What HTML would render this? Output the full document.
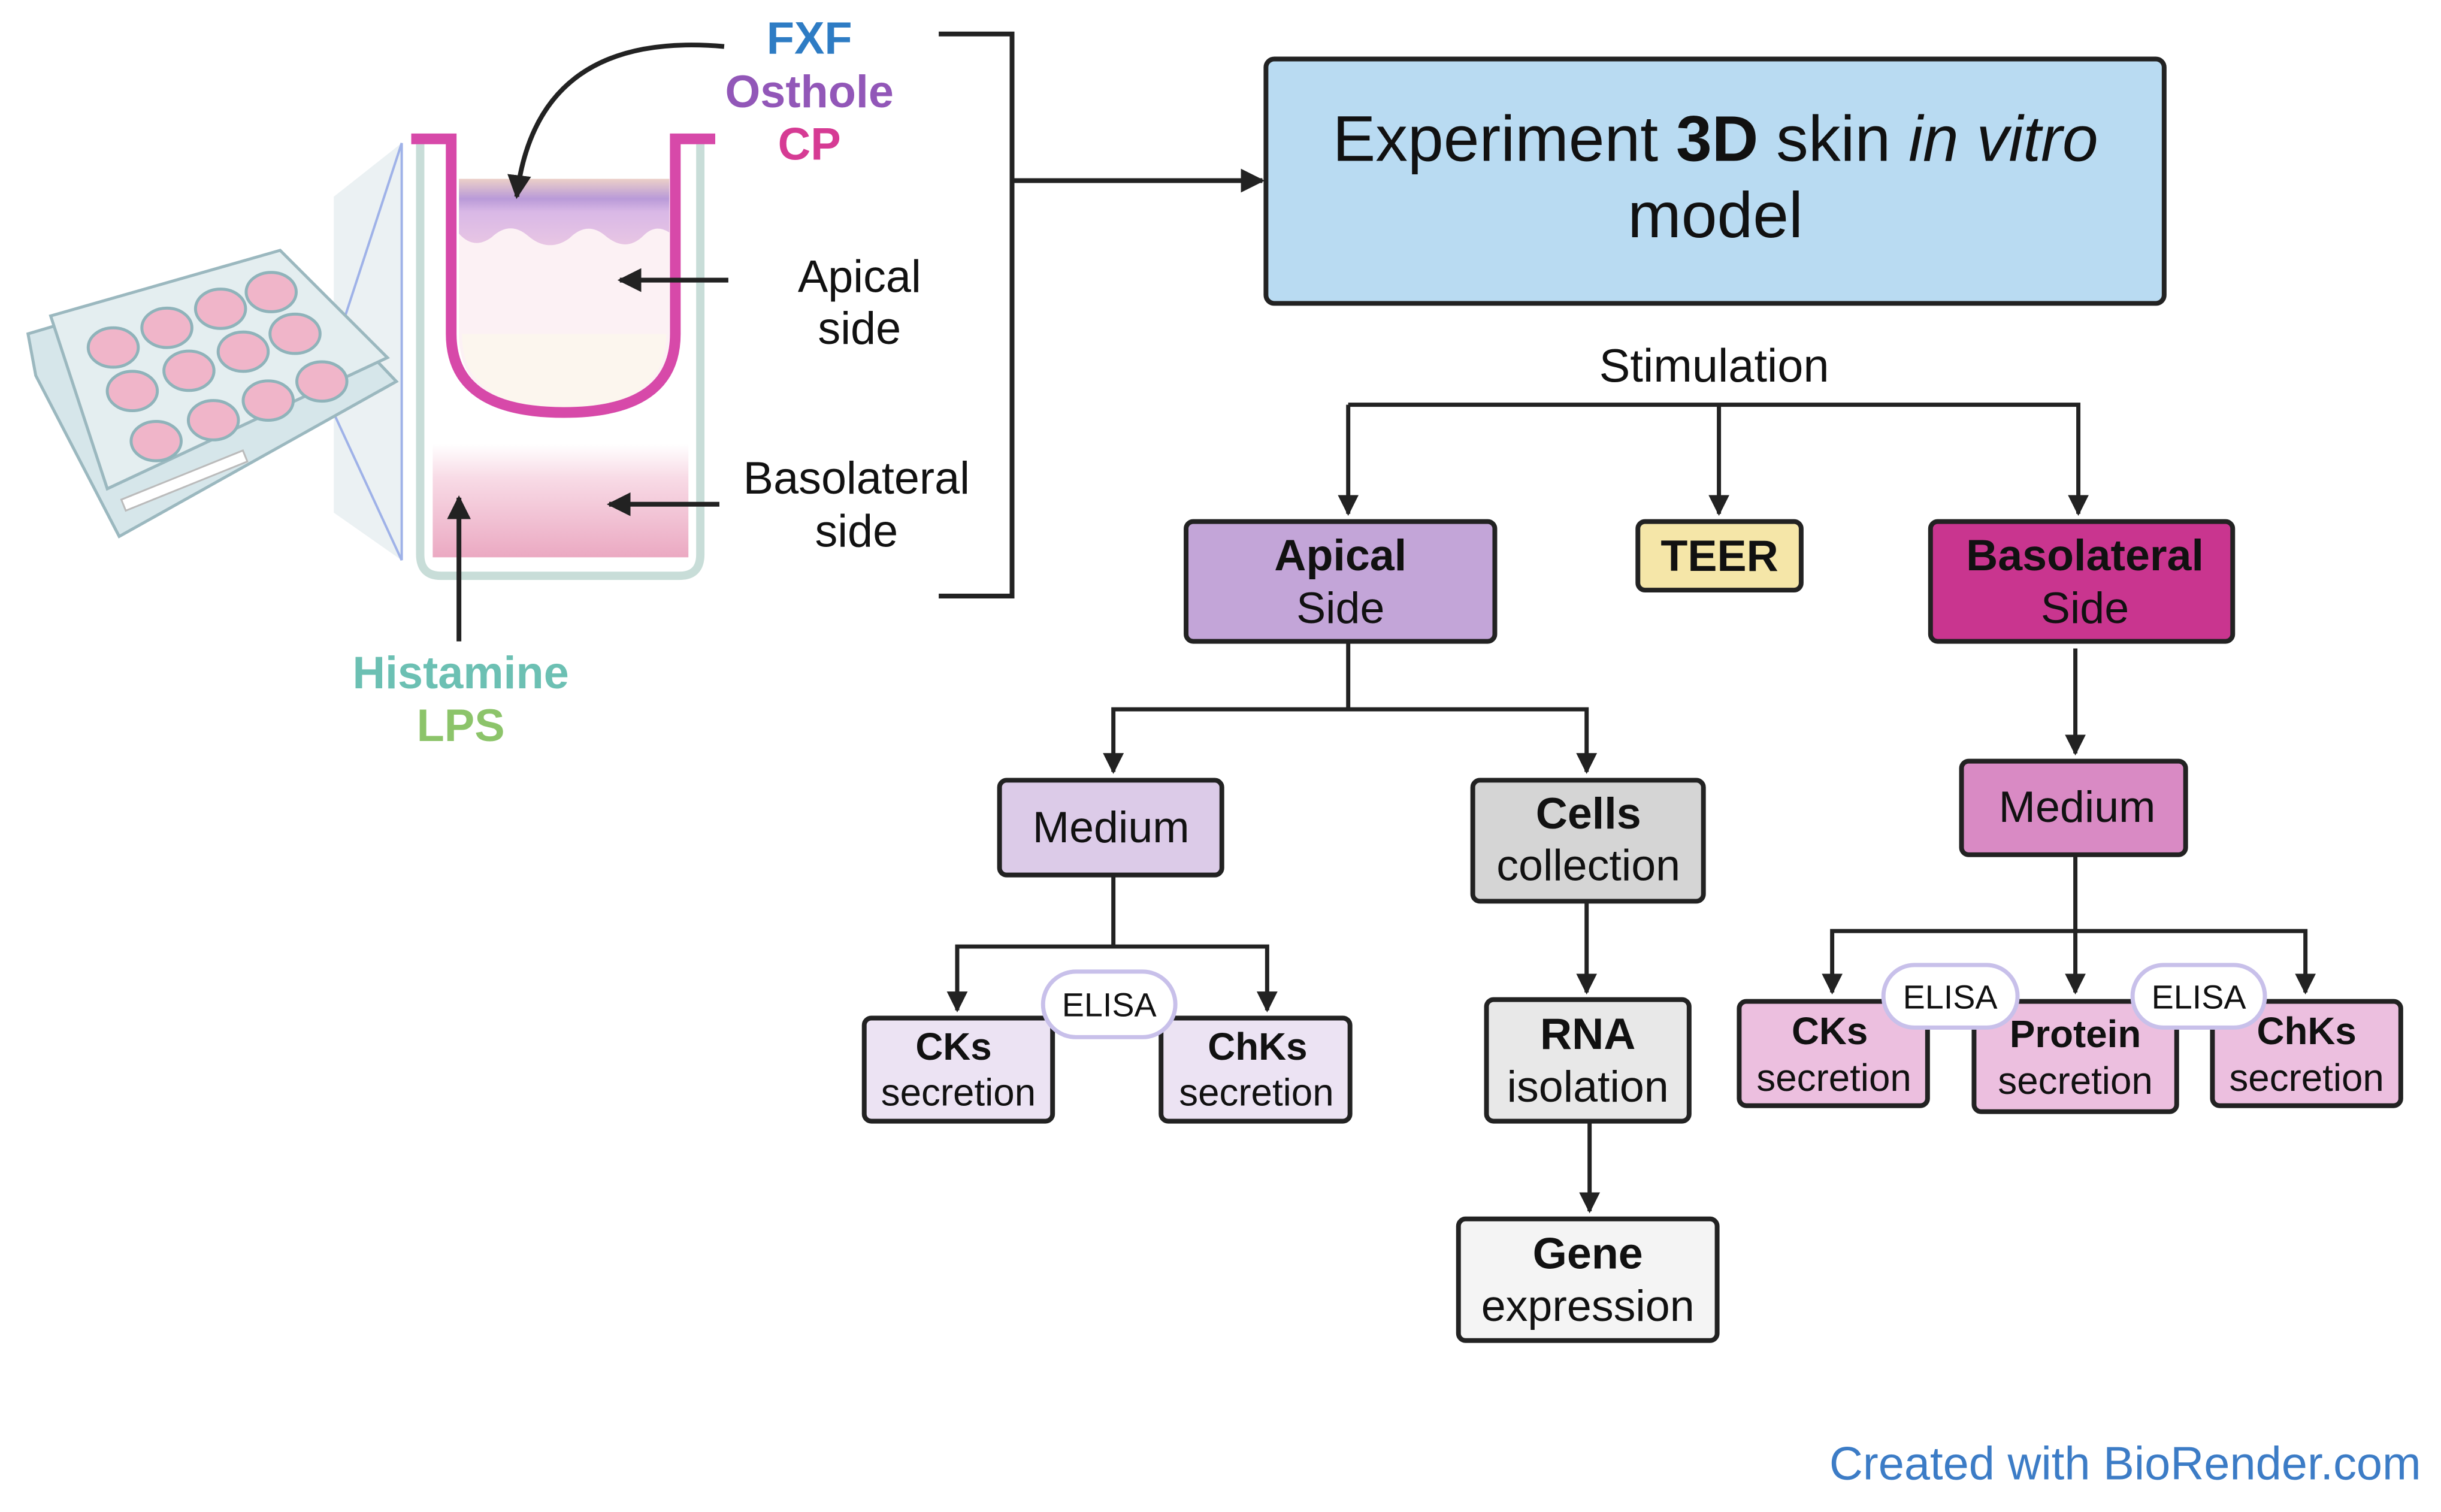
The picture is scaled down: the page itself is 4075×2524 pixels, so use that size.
<!DOCTYPE html>
<html><head><meta charset="utf-8"><style>
html,body{margin:0;padding:0;background:#fff;}
svg{display:block;}
text{font-family:"Liberation Sans",sans-serif;}
</style></head><body>
<svg width="4075" height="2524" viewBox="0 0 4075 2524" xmlns="http://www.w3.org/2000/svg">
<defs>
<marker id="a" viewBox="0 0 10 10" refX="9" refY="5" markerWidth="5" markerHeight="5" orient="auto" markerUnits="strokeWidth"><path d="M0,0 L10,5 L0,10 z" fill="#222"/></marker>
<linearGradient id="bas" x1="0" y1="0" x2="0" y2="1"><stop offset="0" stop-color="#fff"/><stop offset="0.3" stop-color="#f8dbe6"/><stop offset="1" stop-color="#eba9c2"/></linearGradient>
<linearGradient id="tis" x1="0" y1="0" x2="0" y2="1"><stop offset="0" stop-color="#ecd0c8"/><stop offset="0.3" stop-color="#b99ad8"/><stop offset="0.5" stop-color="#d9b8e6"/><stop offset="1" stop-color="#e8c6e4"/></linearGradient>
</defs>
<g transform="scale(0.995)">
<!-- plate -->
<g>
<polygon points="674,240 674,940 560,860 560,330" fill="#e6eef0" opacity="0.8"/>
<line x1="674" y1="240" x2="540" y2="650" stroke="#9fb2e8" stroke-width="4"/>
<line x1="674" y1="940" x2="540" y2="650" stroke="#9fb2e8" stroke-width="4"/>
<line x1="674" y1="240" x2="674" y2="940" stroke="#9fb2e8" stroke-width="4"/>
<polygon points="47,560 470,435 665,640 200,900 60,630" fill="#d6e6ea" stroke="#9bb8bf" stroke-width="5"/>
<polygon points="85,530 470,420 650,600 180,820" fill="#e4eef0" stroke="#9bb8bf" stroke-width="5"/>
<g fill="#f0b5c9" stroke="#8fb3ba" stroke-width="5">
<ellipse cx="190" cy="583" rx="42" ry="33"/><ellipse cx="280" cy="550" rx="42" ry="33"/><ellipse cx="370" cy="518" rx="42" ry="33"/><ellipse cx="455" cy="490" rx="42" ry="33"/>
<ellipse cx="222" cy="656" rx="42" ry="33"/><ellipse cx="317" cy="622" rx="42" ry="33"/><ellipse cx="408" cy="590" rx="42" ry="33"/><ellipse cx="495" cy="560" rx="42" ry="33"/>
<ellipse cx="262" cy="740" rx="42" ry="33"/><ellipse cx="358" cy="705" rx="42" ry="33"/><ellipse cx="450" cy="672" rx="42" ry="33"/><ellipse cx="540" cy="640" rx="42" ry="33"/>
</g>
<rect x="200" y="800" width="220" height="20" fill="#fff" stroke="#bbb" stroke-width="3" transform="rotate(-22 300 810)"/>
</g>

<!-- well -->
<path d="M705,240 L705,930 Q705,966 740,966 L1140,966 Q1175,966 1175,930 L1175,240" fill="#fff" stroke="#c8ddd8" stroke-width="14"/>
<rect x="726" y="745" width="429" height="190" fill="url(#bas)"/>
<path d="M770,300 L1123,300 L1123,560 Q1123,690 946,690 Q770,690 770,560 Z" fill="#fcf1f4"/>
<path d="M775,560 L1118,560 Q1118,685 946,685 Q775,685 775,560 Z" fill="#fcf6ee"/>
<path d="M770,300 L1123,300 L1123,390 Q1100,375 1080,395 Q1050,425 1015,395 Q985,370 955,400 Q920,425 885,395 Q855,370 825,398 Q795,420 770,392 Z" fill="url(#tis)"/>
<path d="M690,233 L757,233 L757,560 Q757,692 946,692 Q1133,692 1133,560 L1133,233 L1200,233" fill="none" stroke="#d749a9" stroke-width="18"/>

<!-- left arrows -->
<g stroke="#222" stroke-width="8" fill="none">
<path d="M1215,78 Q900,50 867,330" marker-end="url(#a)"/>
<line x1="1222" y1="470" x2="1040" y2="470" marker-end="url(#a)"/>
<line x1="1207" y1="846" x2="1022" y2="846" marker-end="url(#a)"/>
<line x1="770" y1="1076" x2="770" y2="835" marker-end="url(#a)"/>
<polyline points="1575,57 1698,57 1698,1000 1575,1000"/>
<line x1="1698" y1="303" x2="2118" y2="303" marker-end="url(#a)"/>
</g>

<g font-weight="bold" font-size="76" text-anchor="middle">
<text x="1358" y="90" fill="#2e7cc4">FXF</text>
<text x="1358" y="180" fill="#9257b8">Osthole</text>
<text x="1358" y="268" fill="#d63b94">CP</text>
<text x="773" y="1155" fill="#6cc0b3">Histamine</text>
<text x="773" y="1243" fill="#8cc46a">LPS</text>
</g>
<g font-size="76" text-anchor="middle" fill="#111">
<text x="1442" y="490">Apical</text><text x="1442" y="577">side</text>
<text x="1437" y="828">Basolateral</text><text x="1437" y="917">side</text>
</g>

<!-- main box -->
<rect x="2124" y="99" width="1507" height="410" rx="14" fill="#b9dbf2" stroke="#222" stroke-width="8"/>
<text x="2878" y="270" font-size="108" text-anchor="middle" fill="#111">Experiment <tspan font-weight="bold">3D</tspan> skin <tspan font-style="italic">in vitro</tspan></text>
<text x="2878" y="398" font-size="108" text-anchor="middle" fill="#111">model</text>
<text x="2876" y="640" font-size="78" text-anchor="middle" fill="#111">Stimulation</text>

<g stroke="#222" stroke-width="7" fill="none">
<polyline points="2262,679 3487,679 3487,862" marker-end="url(#a)"/>
<polyline points="2262,679 2262,862" marker-end="url(#a)"/>
<line x1="2884" y1="679" x2="2884" y2="862" marker-end="url(#a)"/>
<polyline points="2262,1076 2262,1190 1868,1190 1868,1295" marker-end="url(#a)"/>
<polyline points="2262,1190 2662,1190 2662,1295" marker-end="url(#a)"/>
<line x1="3482" y1="1088" x2="3482" y2="1264" marker-end="url(#a)"/>
<polyline points="1868,1468 1868,1588 1606,1588 1606,1695" marker-end="url(#a)"/>
<polyline points="1868,1588 2126,1588 2126,1695" marker-end="url(#a)"/>
<line x1="2662" y1="1512" x2="2662" y2="1665" marker-end="url(#a)"/>
<line x1="2667" y1="1881" x2="2667" y2="2032" marker-end="url(#a)"/>
<line x1="3482" y1="1434" x2="3482" y2="1665" marker-end="url(#a)"/>
<polyline points="3482,1562 3074,1562 3074,1665" marker-end="url(#a)"/>
<polyline points="3482,1562 3868,1562 3868,1665" marker-end="url(#a)"/>
</g>

<g stroke="#222" stroke-width="8">
<rect x="1990" y="875" width="518" height="201" rx="12" fill="#c3a5d8"/>
<rect x="2748" y="875" width="274" height="115" rx="12" fill="#f5e6a8"/>
<rect x="3239" y="875" width="507" height="201" rx="12" fill="#c9358f"/>
<rect x="1677" y="1309" width="373" height="159" rx="12" fill="#dccbe8"/>
<rect x="2471" y="1309" width="387" height="203" rx="12" fill="#d5d5d5"/>
<rect x="3291" y="1277" width="376" height="157" rx="12" fill="#d98ac4"/>
<rect x="1450" y="1708" width="316" height="173" rx="12" fill="#ece3f3"/>
<rect x="1948" y="1708" width="317" height="173" rx="12" fill="#ece3f3"/>
<rect x="2494" y="1677" width="340" height="204" rx="12" fill="#e8e8e8"/>
<rect x="2447" y="2045" width="434" height="204" rx="12" fill="#f4f4f4"/>
<rect x="2918" y="1680" width="316" height="175" rx="12" fill="#ecbfdf"/>
<rect x="3312" y="1680" width="340" height="185" rx="12" fill="#ecbfdf"/>
<rect x="3712" y="1680" width="316" height="175" rx="12" fill="#ecbfdf"/>
</g>
<g fill="#fff" stroke="#c8c0ea" stroke-width="7">
<rect x="1750" y="1630" width="222" height="110" rx="55"/>
<rect x="3160" y="1619" width="225" height="105" rx="52"/>
<rect x="3578" y="1619" width="222" height="105" rx="52"/>
</g>

<g font-size="74" text-anchor="middle" fill="#111">
<text x="2249" y="957" font-weight="bold">Apical</text><text x="2249" y="1045">Side</text>
<text x="2885" y="958" font-weight="bold">TEER</text>
<text x="3498" y="957" font-weight="bold">Basolateral</text><text x="3498" y="1045">Side</text>
<text x="1864" y="1413">Medium</text>
<text x="2665" y="1390" font-weight="bold">Cells</text><text x="2665" y="1477">collection</text>
<text x="3485" y="1379">Medium</text>
<text x="2664" y="1760" font-weight="bold">RNA</text><text x="2664" y="1848">isolation</text>
<text x="2664" y="2128" font-weight="bold">Gene</text><text x="2664" y="2216">expression</text>
</g>
<g font-size="64" text-anchor="middle" fill="#111">
<text x="1600" y="1778" font-weight="bold">CKs</text><text x="1608" y="1855">secretion</text>
<text x="2110" y="1778" font-weight="bold">ChKs</text><text x="2108" y="1855">secretion</text>
<text x="3070" y="1752" font-weight="bold">CKs</text><text x="3077" y="1830">secretion</text>
<text x="3482" y="1757" font-weight="bold">Protein</text><text x="3482" y="1835">secretion</text>
<text x="3870" y="1752" font-weight="bold">ChKs</text><text x="3870" y="1830">secretion</text>
</g>
<g font-size="56" text-anchor="middle" fill="#111">
<text x="1861" y="1705">ELISA</text>
<text x="3272" y="1692">ELISA</text>
<text x="3689" y="1692">ELISA</text>
</g>
<text x="4062" y="2482" font-size="78" text-anchor="end" fill="#3c7cc6">Created with BioRender.com</text>
</g>
</svg>
</body></html>
